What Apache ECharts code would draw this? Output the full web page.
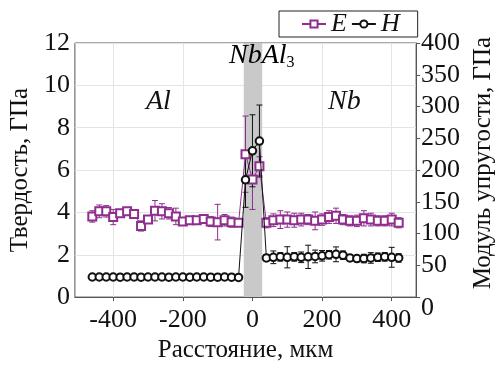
<!DOCTYPE html>
<html><head><meta charset="utf-8">
<script src="https://cdn.jsdelivr.net/npm/echarts@6/dist/echarts.min.js"></script>
<style>html,body{margin:0;padding:0;background:#fff}#c{width:504px;height:368px}</style>
</head><body><div id="c"></div>
<script>
// Distance, µm
const xPos = [-460,-440,-420,-400,-380,-360,-340,-320,-300,-280,-260,-240,-220,-200,-180,-160,-140,-120,-100,-80,-60,-40,
  -20,0,20,
  40,60,80,100,120,140,160,180,200,220,240,260,280,300,320,340,360,380,400,420];
// Elastic modulus E, GPa (right axis)
const eVals = [127,135,135,126,132,135,131,112,122,136,135,132,127,119,121,121,123,119,118,121,118,117,
  225,185,206,
  117,121,122,122,121,122,122,120,122,126,128,122,120,120,124,122,120,120,122,117];
const eErr = [9,10,9,12,6,6,5,8,6,16,12,9,13,6,5,5,6,8,28,9,8,5,
  60,47,15,
  8,10,14,12,11,10,8,14,9,10,12,8,8,9,12,10,8,8,10,8];
// Hardness H, GPa (left axis)
const hVals = [0.95,0.95,0.95,0.95,0.94,0.95,0.95,0.94,0.95,0.95,0.95,0.94,0.95,0.95,0.94,0.95,0.95,0.94,0.94,0.95,0.94,0.93,
  5.54,6.91,7.37,
  1.85,1.88,1.90,1.88,1.90,1.88,1.90,1.92,1.95,2.00,2.02,1.98,1.85,1.82,1.82,1.85,1.88,1.90,1.88,1.85];
const hErr = [0.02,0.02,0.02,0.02,0.02,0.02,0.02,0.02,0.02,0.02,0.02,0.02,0.02,0.02,0.02,0.02,0.02,0.02,0.02,0.02,0.02,0.02,
  1.3,1.7,1.7,
  0.15,0.3,0.2,0.5,0.2,0.25,0.55,0.3,0.25,0.2,0.35,0.2,0.15,0.15,0.2,0.25,0.2,0.2,0.47,0.2];
const xTicks = [-400,-200,0,200,400];
const bandRange = [-25, 28];

const FONT = 'Liberation Serif';
const PURPLE = '#8e2e8e';
const BLACK = '#111111';

function errSeries(name, yIdx, vals, errs, color) {
  return {
    type: 'custom', name: name, yAxisIndex: yIdx, z: 3, silent: true,
    data: xPos.map((x, i) => [x, vals[i] - errs[i], vals[i] + errs[i]]),
    encode: { x: 0, y: [1, 2] },
    renderItem(params, api) {
      const x = api.value(0);
      const lo = api.coord([x, api.value(1)]);
      const hi = api.coord([x, api.value(2)]);
      const w = 3;
      const st = { stroke: color, lineWidth: 1 };
      return { type: 'group', children: [
        { type: 'line', shape: { x1: lo[0], y1: lo[1], x2: hi[0], y2: hi[1] }, style: st },
        { type: 'line', shape: { x1: lo[0] - w, y1: lo[1], x2: lo[0] + w, y2: lo[1] }, style: st },
        { type: 'line', shape: { x1: hi[0] - w, y1: hi[1], x2: hi[0] + w, y2: hi[1] }, style: st }
      ]};
    }
  };
}

const chart = echarts.init(document.getElementById('c'), null, { renderer: 'canvas' });
const axisLine = { show: true, lineStyle: { color: '#555', width: 1 } };
const labelStyle = { fontFamily: FONT, fontSize: 26, color: BLACK };
chart.setOption({
  animation: false,
  backgroundColor: '#fff',
  grid: { left: 63, right: 76, top: 43, bottom: 67, show: true, borderColor: '#555', borderWidth: 1, backgroundColor: 'transparent' },
  legend: {
    data: ['E', 'H'], left: 279, top: 11, padding: [0, 18, 0, 22], itemGap: 4, itemWidth: 24, itemHeight: 9,
    borderColor: '#222', borderWidth: 1, backgroundColor: '#fff',
    textStyle: { fontFamily: FONT, fontSize: 26, fontStyle: 'italic', color: BLACK, lineHeight: 26 }
  },
  xAxis: {
    type: 'value', min: -510, max: 470,
    name: 'Расстояние, мкм', nameLocation: 'middle', nameGap: 33,
    nameTextStyle: { fontFamily: FONT, fontSize: 25, color: BLACK },
    axisLine: axisLine,
    axisTick: { show: true, length: 4, customValues: xTicks, lineStyle: { color: '#555' } },
    axisLabel: Object.assign({ customValues: xTicks, margin: 10 }, labelStyle),
    splitLine: { show: true, lineStyle: { color: '#e4e4e4', width: 1 } }
  },
  yAxis: [
    {
      type: 'value', min: 0, max: 12, interval: 2, position: 'left',
      name: 'Твердость, ГПа', nameLocation: 'middle', nameGap: 33,
      nameTextStyle: { fontFamily: FONT, fontSize: 25, color: BLACK },
      axisLine: axisLine,
      axisTick: { show: true, length: 4, lineStyle: { color: '#555' } },
      axisLabel: Object.assign({ margin: 5 }, labelStyle),
      splitLine: { show: true, lineStyle: { color: '#e4e4e4', width: 1 } }
    },
    {
      type: 'value', min: 0, max: 400, interval: 50, position: 'right',
      name: 'Модуль упругости, ГПа', nameLocation: 'middle', nameGap: 52,
      nameTextStyle: { fontFamily: FONT, fontSize: 25, color: BLACK, padding: [0, 0, 0, 14] },
      axisLine: axisLine,
      axisTick: { show: true, length: 4, lineStyle: { color: '#555' } },
      axisLabel: Object.assign({ margin: 5,
        formatter: v => v === 0 ? '{z|0}' : String(v),
        rich: { z: { fontFamily: FONT, fontSize: 26, color: BLACK, padding: [22, 0, 0, 0] } } }, labelStyle),
      splitLine: { show: false }
    }
  ],
  graphic: [
    { type: 'text', left: 146, top: 88, z: 50, style: { text: 'Al', font: 'italic 28px "Liberation Serif"', fill: BLACK } },
    { type: 'text', left: 328, top: 88, z: 50, style: { text: 'Nb', font: 'italic 28px "Liberation Serif"', fill: BLACK } },
    { type: 'text', left: 229, top: 42, z: 50, style: {
      text: '{a|NbAl}{s|3}',
      rich: { a: { fontFamily: FONT, fontStyle: 'italic', fontSize: 28, color: BLACK },
              s: { fontFamily: FONT, fontSize: 16, color: BLACK, padding: [14, 0, 0, 0] } } } }
  ],
  series: [
    {
      type: 'line', name: 'band', data: [], z: 1, silent: true,
      markArea: { silent: true, itemStyle: { color: '#c9c9c9' }, data: [[{ xAxis: bandRange[0] }, { xAxis: bandRange[1] }]] }
    },
    errSeries('Eerr', 1, eVals, eErr, PURPLE),
    errSeries('Herr', 0, hVals, hErr, BLACK),
    {
      type: 'line', name: 'E', yAxisIndex: 1, z: 5,
      data: xPos.map((x, i) => [x, eVals[i]]),
      symbol: 'emptyRect', symbolSize: 8, showAllSymbol: true,
      lineStyle: { color: PURPLE, width: 1 },
      itemStyle: { color: PURPLE, borderColor: PURPLE, borderWidth: 1.3 }
    },
    {
      type: 'line', name: 'H', yAxisIndex: 0, z: 6,
      data: xPos.map((x, i) => [x, hVals[i]]),
      symbol: 'emptyCircle', symbolSize: 7.5, showAllSymbol: true,
      lineStyle: { color: BLACK, width: 1 },
      itemStyle: { color: BLACK, borderColor: BLACK, borderWidth: 1.2 }
    }
  ]
});
</script>
</body></html>
